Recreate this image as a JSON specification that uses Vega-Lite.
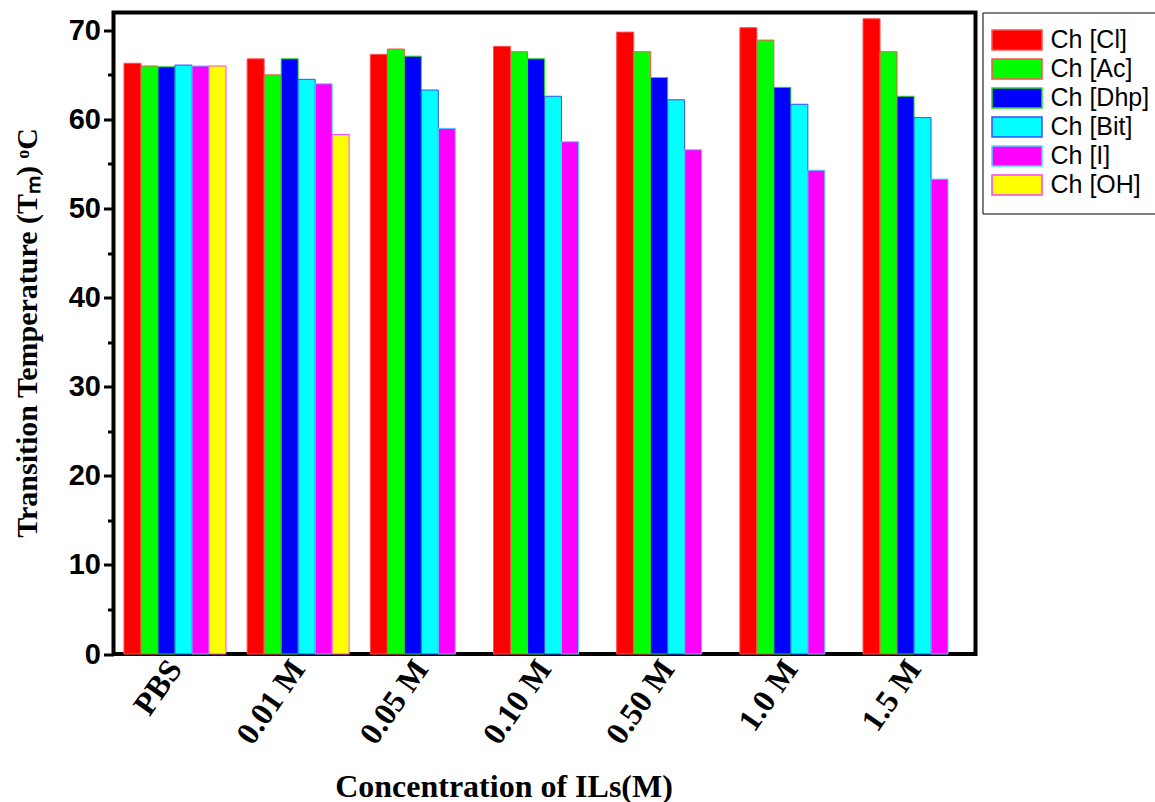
{
  "$schema": "https://vega.github.io/schema/vega-lite/v6.json",
  "width": 862,
  "height": 641.5,
  "autosize": "none",
  "padding": {"left": 113.5, "top": 12.5, "right": 179.5, "bottom": 148},
  "background": "white",
  "config": {
    "view": {"stroke": "black", "strokeWidth": 4},
    "axis": {"grid": false, "domain": false}
  },
  "data": {
    "values": [
      {"conc": "PBS", "series": "Ch [Cl]", "tm": 66.3},
      {"conc": "PBS", "series": "Ch [Ac]", "tm": 66.0},
      {"conc": "PBS", "series": "Ch [Dhp]", "tm": 65.9},
      {"conc": "PBS", "series": "Ch [Bit]", "tm": 66.1},
      {"conc": "PBS", "series": "Ch [I]", "tm": 66.0},
      {"conc": "PBS", "series": "Ch [OH]", "tm": 66.0},
      {"conc": "0.01 M", "series": "Ch [Cl]", "tm": 66.8},
      {"conc": "0.01 M", "series": "Ch [Ac]", "tm": 65.0},
      {"conc": "0.01 M", "series": "Ch [Dhp]", "tm": 66.8},
      {"conc": "0.01 M", "series": "Ch [Bit]", "tm": 64.5},
      {"conc": "0.01 M", "series": "Ch [I]", "tm": 64.0},
      {"conc": "0.01 M", "series": "Ch [OH]", "tm": 58.3},
      {"conc": "0.05 M", "series": "Ch [Cl]", "tm": 67.3},
      {"conc": "0.05 M", "series": "Ch [Ac]", "tm": 67.9},
      {"conc": "0.05 M", "series": "Ch [Dhp]", "tm": 67.1},
      {"conc": "0.05 M", "series": "Ch [Bit]", "tm": 63.3},
      {"conc": "0.05 M", "series": "Ch [I]", "tm": 59.0},
      {"conc": "0.10 M", "series": "Ch [Cl]", "tm": 68.2},
      {"conc": "0.10 M", "series": "Ch [Ac]", "tm": 67.6},
      {"conc": "0.10 M", "series": "Ch [Dhp]", "tm": 66.8},
      {"conc": "0.10 M", "series": "Ch [Bit]", "tm": 62.6},
      {"conc": "0.10 M", "series": "Ch [I]", "tm": 57.5},
      {"conc": "0.50 M", "series": "Ch [Cl]", "tm": 69.8},
      {"conc": "0.50 M", "series": "Ch [Ac]", "tm": 67.6},
      {"conc": "0.50 M", "series": "Ch [Dhp]", "tm": 64.7},
      {"conc": "0.50 M", "series": "Ch [Bit]", "tm": 62.2},
      {"conc": "0.50 M", "series": "Ch [I]", "tm": 56.6},
      {"conc": "1.0 M", "series": "Ch [Cl]", "tm": 70.3},
      {"conc": "1.0 M", "series": "Ch [Ac]", "tm": 68.9},
      {"conc": "1.0 M", "series": "Ch [Dhp]", "tm": 63.6},
      {"conc": "1.0 M", "series": "Ch [Bit]", "tm": 61.7},
      {"conc": "1.0 M", "series": "Ch [I]", "tm": 54.3},
      {"conc": "1.5 M", "series": "Ch [Cl]", "tm": 71.3},
      {"conc": "1.5 M", "series": "Ch [Ac]", "tm": 67.6},
      {"conc": "1.5 M", "series": "Ch [Dhp]", "tm": 62.6},
      {"conc": "1.5 M", "series": "Ch [Bit]", "tm": 60.2},
      {"conc": "1.5 M", "series": "Ch [I]", "tm": 53.3}
    ]
  },
  "mark": {"type": "bar", "strokeWidth": 1},
  "encoding": {
    "x": {
      "field": "conc",
      "type": "nominal",
      "sort": ["PBS", "0.01 M", "0.05 M", "0.10 M", "0.50 M", "1.0 M", "1.5 M"],
      "scale": {"paddingInner": 0.172, "paddingOuter": 0.085},
      "axis": {
        "title": "Concentration of ILs(M)",
        "ticks": false,
        "labelAngle": -55,
        "labelAlign": "right",
        "labelBaseline": "middle",
        "labelPadding": 9,
        "labelFont": "Liberation Serif",
        "labelFontWeight": "bold",
        "labelFontSize": 32,
        "labelColor": "black",
        "titleFont": "Liberation Serif",
        "titleFontWeight": "bold",
        "titleFontSize": 32,
        "titleColor": "black",
        "titleX": 390,
        "titleY": 142,
        "titleAlign": "center",
        "titleBaseline": "alphabetic"
      }
    },
    "xOffset": {
      "field": "series",
      "type": "nominal",
      "scale": {
        "domain": ["Ch [Cl]", "Ch [Ac]", "Ch [Dhp]", "Ch [Bit]", "Ch [I]", "Ch [OH]"],
        "paddingInner": 0,
        "paddingOuter": 0
      }
    },
    "y": {
      "field": "tm",
      "type": "quantitative",
      "scale": {"domain": [0, 72], "nice": false, "zero": true},
      "axis": {
        "title": "Transition Temperature (Tₘ) ᵒC",
        "values": [0, 5, 10, 15, 20, 25, 30, 35, 40, 45, 50, 55, 60, 65, 70],
        "labelExpr": "datum.value % 10 === 0 ? datum.label : ''",
        "labelFont": "Liberation Sans",
        "labelFontWeight": "bold",
        "labelFontSize": 29,
        "labelColor": "black",
        "labelPadding": 3,
        "tickColor": "black",
        "tickWidth": 3,
        "tickSize": {"condition": {"test": "datum.value % 10 === 0", "value": 10}, "value": 6},
        "titleFont": "Liberation Serif",
        "titleFontWeight": "bold",
        "titleFontSize": 30,
        "titleColor": "black",
        "titleAngle": -90,
        "titleX": -86,
        "titleY": 320,
        "titleAlign": "center",
        "titleBaseline": "middle"
      }
    },
    "fill": {
      "field": "series",
      "type": "nominal",
      "scale": {
        "domain": ["Ch [Cl]", "Ch [Ac]", "Ch [Dhp]", "Ch [Bit]", "Ch [I]", "Ch [OH]"],
        "range": ["#ff0000", "#00ff00", "#0000ff", "#00ffff", "#ff00ff", "#ffff00"]
      },
      "legend": {
        "title": null,
        "orient": "right",
        "offset": 6.5,
        "padding": 15,
        "strokeColor": "black",
        "labelFont": "Liberation Sans",
        "labelFontSize": 25,
        "labelColor": "black",
        "labelOffset": 28,
        "symbolType": "M-1.8,-1H3.2V1H-1.8Z",
        "symbolSize": 400,
        "symbolStrokeWidth": 1.5,
        "symbolOpacity": 1,
        "rowPadding": 2
      }
    },
    "stroke": {
      "field": "series",
      "type": "nominal",
      "scale": {
        "domain": ["Ch [Cl]", "Ch [Ac]", "Ch [Dhp]", "Ch [Bit]", "Ch [I]", "Ch [OH]"],
        "range": ["#ff5050", "#ff5050", "#20e020", "#3050ff", "#40e0ff", "#ff40ff"]
      }
    }
  }
}
